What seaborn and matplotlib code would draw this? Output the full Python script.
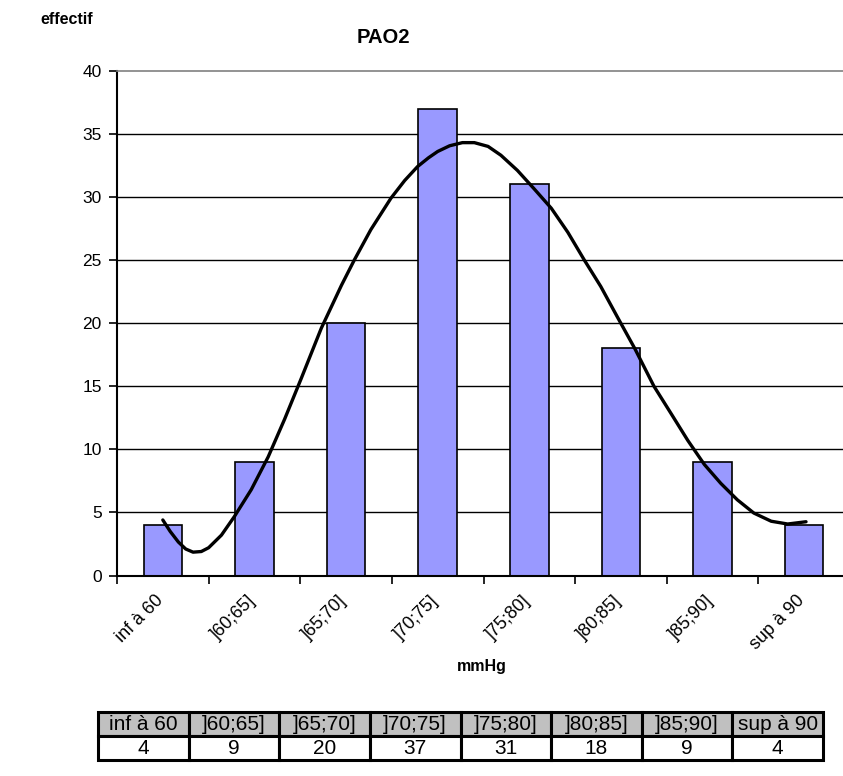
import numpy as np
import pandas as pd
import seaborn as sns
import matplotlib.pyplot as plt
from matplotlib.transforms import ScaledTranslation

# Données
classes = ["inf à 60", "]60;65]", "]65;70]", "]70;75]", "]75;80]", "]80;85]", "]85;90]", "sup à 90"]
effectifs = [4, 9, 20, 37, 31, 18, 9, 4]

# Courbe lissée (position de classe, effectif)
courbe_x = [0.0, 0.08, 0.17, 0.25, 0.33, 0.42, 0.5, 0.64, 0.78, 0.965, 1.15, 1.33, 1.51,
            1.73, 1.95, 2.09, 2.27, 2.49, 2.64, 2.78, 2.9, 3.0, 3.13, 3.27, 3.4, 3.55,
            3.69, 3.87, 4.05, 4.24, 4.42, 4.6, 4.78, 4.96, 5.15, 5.36, 5.55, 5.73, 5.91,
            6.09, 6.27, 6.45, 6.64, 6.82, 7.02]
courbe_y = [4.4, 3.5, 2.65, 2.1, 1.85, 1.9, 2.2, 3.2, 4.66, 6.8, 9.4, 12.4, 15.6,
            19.6, 23.0, 25.0, 27.4, 29.9, 31.3, 32.4, 33.1, 33.6, 34.05, 34.3, 34.3, 34.0,
            33.3, 32.1, 30.66, 29.1, 27.2, 25.0, 22.9, 20.5, 18.0, 15.0, 12.8, 10.7, 8.8,
            7.3, 6.0, 4.95, 4.3, 4.08, 4.26]

sns.set_style("white")
plt.rcParams["font.family"] = ["Liberation Sans", "DejaVu Sans"]
plt.rcParams["text.color"] = "black"
plt.rcParams["xtick.color"] = "black"
plt.rcParams["ytick.color"] = "black"
plt.rcParams["lines.solid_joinstyle"] = "round"

df = pd.DataFrame({"classe": classes, "effectif": effectifs})
df_courbe = pd.DataFrame({"x": courbe_x, "y": courbe_y})

fig = plt.figure(figsize=(8.43, 7.76), dpi=100)
ax = fig.add_axes([117 / 843, 1 - 575.5 / 776, (850 - 117) / 843, (575.5 - 70.7) / 776])

# grille horizontale
for v in range(5, 40, 5):
    ax.axhline(v, color="black", lw=1.0, zorder=0)

sns.barplot(data=df, x="classe", y="effectif", color="#9999FF", edgecolor="black",
            linewidth=1.2, width=0.42, saturation=1, ax=ax, zorder=2)
sns.lineplot(data=df_courbe, x="x", y="y", sort=False, estimator=None,
             color="black", lw=2.4, ax=ax, zorder=3)

ax.set_xlim(-0.5, 7.5)
ax.set_ylim(0, 40)
ax.set_yticks(range(0, 41, 5))
ax.tick_params(axis="y", labelsize=12.5, length=6, width=1.2, direction="out", left=True, pad=5)

ax.set_xticks(range(len(classes)))
ax.set_xticklabels(classes, rotation=45, ha="right", va="top", rotation_mode="anchor", fontsize=13)
ax.tick_params(axis="x", which="major", length=0, pad=12)
ax.set_xticks(np.arange(-0.5, 7.5, 1), minor=True)
ax.tick_params(axis="x", which="minor", length=6, width=1.2, direction="out", bottom=True)
decalage = ScaledTranslation(-8 / 100, 0, fig.dpi_scale_trans)
for lbl in ax.get_xticklabels():
    lbl.set_transform(lbl.get_transform() + decalage)

ax.set_xlabel("")
ax.set_ylabel("")
for side in ["left", "bottom"]:
    ax.spines[side].set_color("black")
    ax.spines[side].set_linewidth(1.5)
ax.spines["top"].set_color("#808080")
ax.spines["top"].set_linewidth(1.2)
ax.spines["right"].set_visible(False)

fig.text(383 / 843, 1 - 37.5 / 776, "PAO2", ha="center", va="center", fontsize=14.5, fontweight="bold")
fig.text(67 / 843, 1 - 19 / 776, "effectif", ha="center", va="center", fontsize=11.5, fontweight="bold")
fig.text(482 / 843, 1 - 667 / 776, "mmHg", ha="center", va="center", fontsize=11.5, fontweight="bold")

# tableau des effectifs
tax = fig.add_axes([98 / 843, 1 - 760 / 776, (823 - 98) / 843, (760 - 712) / 776])
tax.axis("off")
table = tax.table(cellText=[classes, [str(e) for e in effectifs]], cellLoc="center",
                  bbox=[0, 0, 1, 1])
table.auto_set_font_size(False)
for (r, c), cell in table.get_celld().items():
    cell.set_linewidth(2.2)
    cell.set_edgecolor("black")
    cell.set_facecolor("#C0C0C0" if r == 0 else "white")
    cell.get_text().set_fontsize(15)

fig.savefig("out.png", dpi=100)
